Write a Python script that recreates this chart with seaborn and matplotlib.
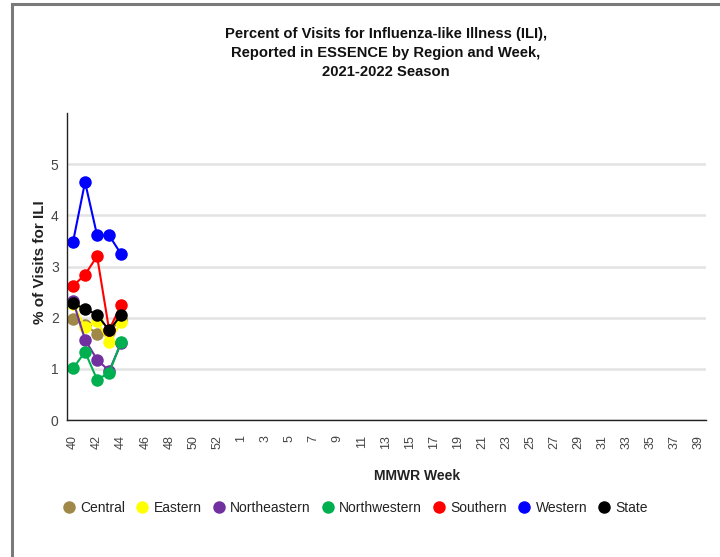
import matplotlib
matplotlib.use("Agg")
import matplotlib.pyplot as plt
from matplotlib.lines import Line2D
from matplotlib.patches import Rectangle
import seaborn as sns
import pandas as pd

# ---- data ----
season_weeks = list(range(40, 54)) + list(range(1, 40))
obs_weeks = [40, 41, 42, 43, 44]
regions = ["Central", "Eastern", "Northeastern", "Northwestern", "Southern", "Western", "State"]
central = [1.97, 1.85, 1.69, 1.72, 1.98]
eastern = [2.27, 1.82, 1.93, 1.52, 1.91]
northeastern = [2.33, 1.57, 1.18, 0.96, 1.50]
northwestern = [1.01, 1.33, 0.79, 0.92, 1.53]
southern = [2.62, 2.84, 3.20, 1.76, 2.25]
western = [3.48, 4.65, 3.61, 3.61, 3.24]
state = [2.28, 2.17, 2.06, 1.75, 2.05]
colors = ["#A08848", "#FFFF00", "#7030A0", "#00B050", "#FF0000", "#0000FF", "#000000"]
title = "Percent of Visits for Influenza-like Illness (ILI),\nReported in ESSENCE by Region and Week,\n2021-2022 Season"

series = [central, eastern, northeastern, northwestern, southern, western, state]
rows = []
for r, vals in zip(regions, series):
    for w, v in zip(obs_weeks, vals):
        rows.append({"Region": r, "pos": season_weeks.index(w), "pct": v})
df = pd.DataFrame(rows)

sns.set_style("white")
plt.rcParams["font.family"] = ["Liberation Sans", "DejaVu Sans"]

fig = plt.figure(figsize=(7.2, 5.57), dpi=100)
ax = fig.add_axes([67/720, 1-420/557, (706-67)/720, (420-113)/557])

palette = dict(zip(regions, colors))
sns.lineplot(data=df, x="pos", y="pct", hue="Region", hue_order=regions, palette=palette,
             marker="o", markersize=9, markeredgewidth=0, linewidth=1.5, ax=ax, legend=False)

n = len(season_weeks)
ax.set_xlim(-0.5, n - 0.4)
ax.set_ylim(0, 6)
ax.set_yticks([0, 1, 2, 3, 4, 5])
ax.set_yticks([0.5, 1.5, 2.5, 3.5, 4.5, 5.5], minor=True)
ax.set_xticks(range(n))
ax.set_xticklabels([str(w) if i % 2 == 0 else "" for i, w in enumerate(season_weeks)],
                   rotation=90, fontsize=9, color="#444444")
ax.tick_params(axis="y", which="major", labelsize=10, labelcolor="#444444", length=0, pad=6)
ax.tick_params(axis="y", which="minor", length=5, width=0.8, color="#333333", direction="out")
ax.tick_params(axis="x", length=8, width=0.8, color="#333333", direction="out", pad=3)
ax.grid(axis="y", which="major", color="#E3E3E3", linewidth=1.8)
ax.set_axisbelow(True)
for s in ["top", "right"]:
    ax.spines[s].set_visible(False)
for s in ["left", "bottom"]:
    ax.spines[s].set_color("#222222")
    ax.spines[s].set_linewidth(1.0)

ax.set_xlabel("")
ax.set_ylabel("")
fig.text(40/720, 1-262/557, "% of Visits for ILI", rotation=90, ha="center", va="center",
         fontsize=11, fontweight="bold", color="#222222")
fig.text(417/720, 1-476/557, "MMWR Week", ha="center", va="center", fontsize=10,
         fontweight="bold", color="#222222")
fig.text(386/720, 1-53/557, title, ha="center", va="center", fontsize=10.6,
         fontweight="bold", color="#111111", linespacing=1.45)

handles = [Line2D([], [], marker="o", linestyle="none", markersize=9, markeredgewidth=0,
                  markerfacecolor=c) for c in colors]
fig.legend(handles, regions, loc="center", bbox_to_anchor=(355/720, 1-508/557), ncol=7,
           frameon=False, fontsize=10, handletextpad=0.3, columnspacing=0.75,
           handlelength=1.0, labelcolor="#222222")

fig.add_artist(Rectangle((12/720, -0.05), 1.2, 1-4/557+0.05, transform=fig.transFigure,
                         fill=False, edgecolor="#7A7A7A", linewidth=2.2, zorder=-1))

fig.savefig("out.png", dpi=100)
